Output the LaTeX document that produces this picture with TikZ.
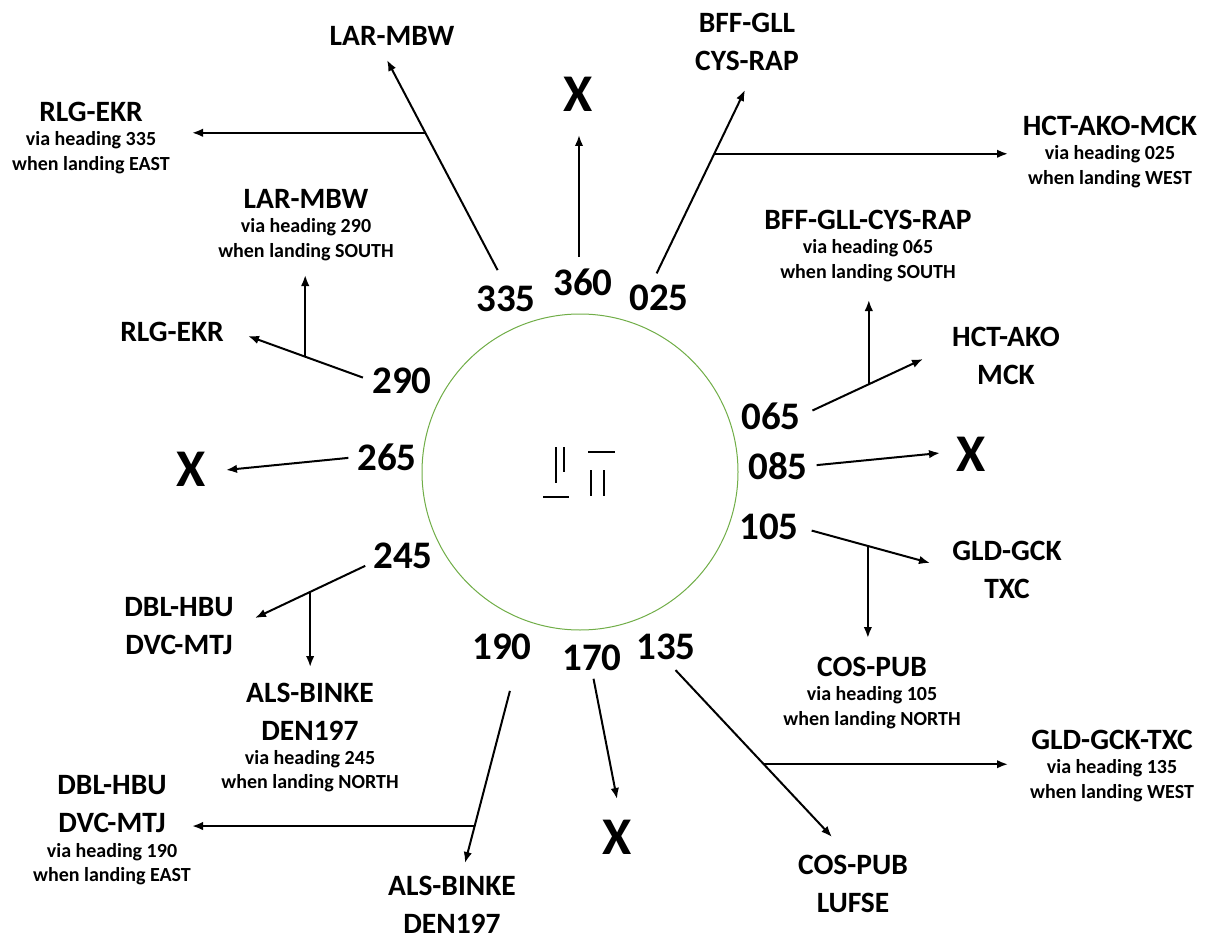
\documentclass[tikz,border=0pt]{standalone}
\usepackage{fontspec}
\setmainfont{Carlito}
\usetikzlibrary{arrows.meta, positioning, calc}
\definecolor{ringgreen}{RGB}{112,173,71}

\begin{document}
\begin{tikzpicture}[x=1pt,y=-1pt,>={Latex[length=11pt,width=8.5pt]},
  every node/.style={inner sep=0pt,outer sep=0pt},
  hdg/.style={font=\fontsize{39}{39}\selectfont\bfseries},
  fix/.style={font=\fontsize{29.5}{37.5}\selectfont\bfseries,align=center},
  via/.style={font=\fontsize{20}{24.5}\selectfont\bfseries,align=center},
  nogo/.style={font=\fontsize{53}{53}\selectfont\bfseries},
  rte/.style={->,line width=2pt},
  rwy/.style={line width=2pt}]
 \useasboundingbox (0,0) rectangle (1205,939);
 \draw[ringgreen,line width=1pt] (580,472) circle[radius=158];
 \draw[rwy] (556,447) -- (556,483) (564,447) -- (564,472) (543,497) -- (569,497);
 \draw[rwy] (588,452) -- (615,452) (591,470) -- (591,496) (604,470) -- (604,496);
 % headings round the ring
 \node[hdg] (n335) at (506,299) {335};
 \node[hdg] (n360) at (583,282) {360};
 \node[hdg] (n025) at (659,298) {025};
 \node[hdg] (n065) at (771,416) {065};
 \node[hdg] (n085) at (778,466) {085};
 \node[hdg] (n105) at (769,527) {105};
 \node[hdg] (n135) at (666,647) {135};
 \node[hdg] (n170) at (592,658) {170};
 \node[hdg] (n190) at (502,647) {190};
 \node[hdg] (n245) at (403,556) {245};
 \node[hdg] (n265) at (387,457) {265};
 \node[hdg] (n290) at (402,381) {290};
 % closed headings
 \node[nogo] (xN) at (578,94) {X};
 \node[nogo] (xE) at (971,454) {X};
 \node[nogo] (xS) at (617,837) {X};
 \node[nogo] (xW) at (191,469) {X};
 % fixes
 \node[fix] (larA) at (392,36) {LAR-MBW};
 \node[fix] (rlgA) at (91,112) {RLG-EKR};
 \node[via,below=10pt of rlgA] (rlgAv) {via heading 335\\when landing EAST};
 \node[fix] (bffA) at (747,42) {BFF-GLL\\CYS-RAP};
 \node[fix] (hctA) at (1110,126) {HCT-AKO-MCK};
 \node[via,below=10pt of hctA] (hctAv) {via heading 025\\when landing WEST};
 \node[fix] (larB) at (306,199) {LAR-MBW};
 \node[via,below=10pt of larB] (larBv) {via heading 290\\when landing SOUTH};
 \node[fix] (bffB) at (868,220) {BFF-GLL-CYS-RAP};
 \node[via,below=10pt of bffB] (bffBv) {via heading 065\\when landing SOUTH};
 \node[fix] (rlgB) at (172,332) {RLG-EKR};
 \node[fix] (hctB) at (1006,356) {HCT-AKO\\MCK};
 \node[fix] (gldA) at (1007,570) {GLD-GCK\\TXC};
 \node[fix] (dblA) at (179,626) {DBL-HBU\\DVC-MTJ};
 \node[fix] (cosA) at (872,667) {COS-PUB};
 \node[via,below=10pt of cosA] (cosAv) {via heading 105\\when landing NORTH};
 \node[fix] (alsA) at (310,712) {ALS-BINKE\\DEN197};
 \node[via,below=10pt of alsA] (alsAv) {via heading 245\\when landing NORTH};
 \node[fix] (gldB) at (1112,740) {GLD-GCK-TXC};
 \node[via,below=10pt of gldB] (gldBv) {via heading 135\\when landing WEST};
 \node[fix] (dblB) at (112,804) {DBL-HBU\\DVC-MTJ};
 \node[via,below=11pt of dblB] (dblBv) {via heading 190\\when landing EAST};
 \node[fix] (cosB) at (853,884) {COS-PUB\\LUFSE};
 \node[fix] (alsB) at (452,905) {ALS-BINKE\\DEN197};
 % arrow ends
 \coordinate (t335) at (387,60);  \coordinate (b335) at (192,133);
 \coordinate (t360) at (579,135);
 \coordinate (t025) at (745,90);  \coordinate (b025) at (1008,154);
 \coordinate (t065) at (923,359); \coordinate (b065) at (869,300);
 \coordinate (t085) at (940,453);
 \coordinate (t105) at (930,563); \coordinate (b105) at (869,638);
 \coordinate (t135) at (832,837); \coordinate (b135) at (1008,765);
 \coordinate (t170) at (617,799);
 \coordinate (t190) at (465,863); \coordinate (b190) at (192,825);
 \coordinate (t245) at (255,618); \coordinate (b245) at (310,667);
 \coordinate (t265) at (226,470);
 \coordinate (t290) at (248,336); \coordinate (b290) at (305,275);
 % departures
 \draw[rte,shorten <=18pt] (n335.north) -- (t335);
 \coordinate (j335) at ($(n335.north)!0.678!(t335)$);
 \draw[rte] (j335) -- (j335 -| b335);
 \draw[rte,shorten <=11.5pt] ([xshift=-4pt]n360.north) -- (t360);
 \draw[rte,shorten <=13pt] ([xshift=-8pt]n025.north) -- (t025);
 \coordinate (j025) at ($([xshift=-8pt]n025.north)!0.673!(t025)$);
 \draw[rte] (j025) -- (j025 -| b025);
 \draw[rte,shorten <=13pt] (n065.east) -- (t065);
 \coordinate (j065) at ($(n065.east)!0.557!(t065)$);
 \draw[rte] (j065) -- (j065 |- b065);
 \draw[rte,shorten <=9pt] (n085.east) -- (t085);
 \draw[rte,shorten <=13.5pt] (n105.east) -- (t105);
 \coordinate (j105) at ($(n105.east)!0.527!(t105)$);
 \draw[rte] (j105) -- (j105 |- b105);
 \draw[rte,shorten <=14pt] (n135.south) -- (t135);
 \coordinate (j135) at ($(n135.south)!0.589!(t135)$);
 \draw[rte] (j135) -- (j135 -| b135);
 \draw[rte,shorten <=8pt] (n170.south) -- (t170);
 \draw[rte,shorten <=32pt] ([xshift=16pt]n190.south) -- (t190);
 \coordinate (j190) at ($([xshift=16pt]n190.south)!0.818!(t190)$);
 \draw[rte] (j190) -- (j190 -| b190);
 \draw[rte,shorten <=9pt] ([yshift=-6pt]n245.west) -- (t245);
 \coordinate (j245) at ($([yshift=-6pt]n245.west)!0.534!(t245)$);
 \draw[rte] (j245) -- (j245 |- b245);
 \draw[rte,shorten <=9pt] (n265.west) -- (t265);
 \draw[rte,shorten <=10pt] (n290.west) -- (t290);
 \coordinate (j290) at ($(n290.west)!0.54!(t290)$);
 \draw[rte] (j290) -- (j290 |- b290);
\end{tikzpicture}
\end{document}
